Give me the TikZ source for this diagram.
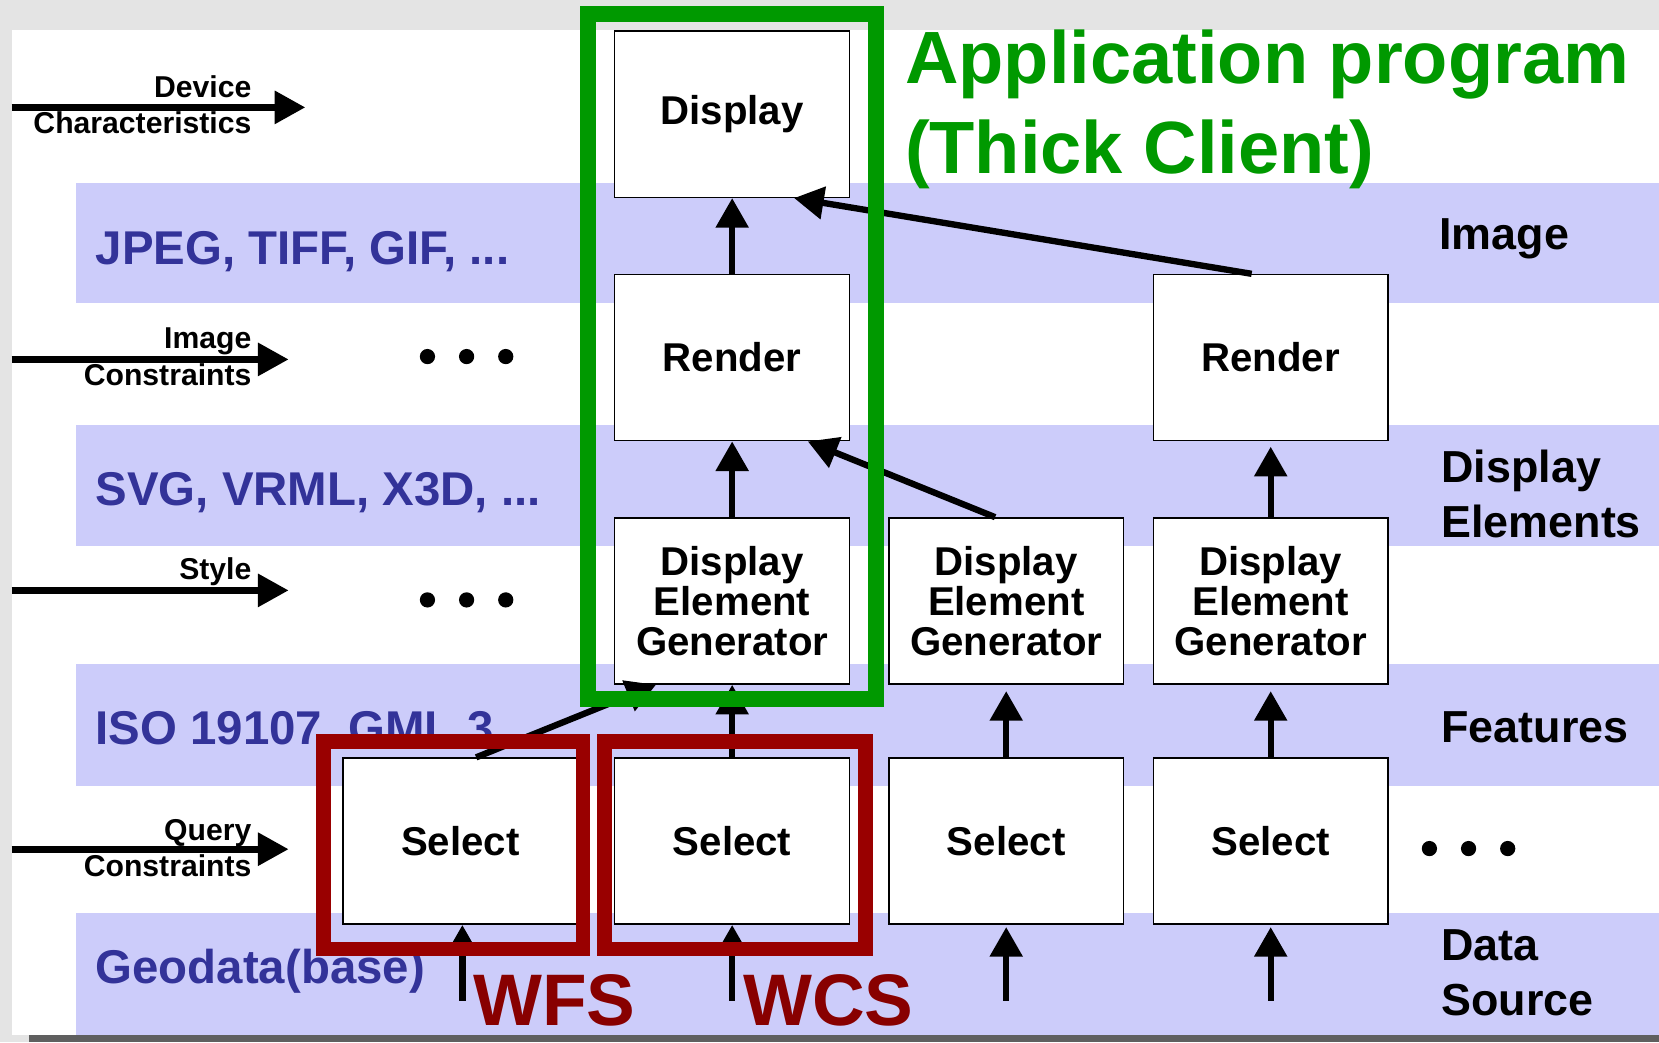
\documentclass[tikz,border=0pt]{standalone}
\usepackage{fontspec}
\setmainfont{Liberation Sans}
\usetikzlibrary{arrows.meta,calc}
\definecolor{bggray}{HTML}{E4E4E4}
\definecolor{bandc}{HTML}{CCCCFA}
\definecolor{bandtext}{HTML}{333399}
\definecolor{appgreen}{HTML}{009900}
\definecolor{frred}{HTML}{990000}
\definecolor{txred}{HTML}{880000}
\definecolor{barg}{HTML}{5F5F5F}
\tikzset{
  box/.style={draw=black, line width=0.7pt, fill=white, minimum width=111pt,
    minimum height=78.5pt, inner sep=0pt, align=center,
    font=\bfseries\fontsize{19pt}{18.75pt}\selectfont},
  conn/.style={line width=3pt, -{Triangle[length=14pt,width=15pt]}},
  inarr/.style={line width=3.2pt, -{Triangle[length=14.5pt,width=15pt]}},
  smalllbl/.style={inner sep=0pt, anchor=base east, font=\bfseries\fontsize{14.25pt}{17pt}\selectfont},
  bandlbl/.style={inner sep=0pt, anchor=base west, text=bandtext, font=\bfseries\fontsize{22.4pt}{26pt}\selectfont},
  sidelbl/.style={inner sep=0pt, anchor=base west, font=\bfseries\fontsize{21.2pt}{26pt}\selectfont},
  titlelbl/.style={inner sep=0pt, anchor=base west, text=appgreen, font=\bfseries\fontsize{35pt}{42pt}\selectfont},
  svclbl/.style={inner sep=0pt, anchor=base west, text=txred, font=\bfseries\fontsize{34.5pt}{40pt}\selectfont},
  greenframe/.style={draw=appgreen, line width=7.5pt},
  redframe/.style={draw=frred, line width=7pt},
  dot/.style={fill=black}
}
\begin{document}
\begin{tikzpicture}[x=0.5pt,y=-0.5pt]
\useasboundingbox (0,0) rectangle (1568,985);
% background
\fill[bggray] (0,0) rectangle (1568,985);
\fill[white] (11,28) rectangle (1568,978);
\fill[barg] (27,978) rectangle (1568,985);
% bands
\fill[bandc] (72,173) rectangle (1568,286);
\fill[bandc] (72,402) rectangle (1568,516);
\fill[bandc] (72,628) rectangle (1568,743);
\fill[bandc] (72,863) rectangle (1568,978);
% band labels
\node[bandlbl] (jpeg) at (90,250) {JPEG, TIFF, GIF, ...};
\node[bandlbl] (svg) at (90,478) {SVG, VRML, X3D, ...};
\node[bandlbl] (iso) at (90,704) {ISO 19107, GML 3};
\node[bandlbl] (geo) at (90,930) {Geodata(base)};
% side labels
\node[sidelbl] (simage) at (1360,236) {Image};
\node[sidelbl] (sdisp) at (1362,456) {Display};
\node[sidelbl] (selem) at (1362,508) {Elements};
\node[sidelbl] (sfeat) at (1362,702) {Features};
\node[sidelbl] (sdata) at (1362,908) {Data};
\node[sidelbl] (ssrc) at (1362,960) {Source};
% input labels
\node[smalllbl] (ldev) at (238,92) {Device};
\node[smalllbl] (lchar) at (238,126) {Characteristics};
\node[smalllbl] (limg) at (238,329) {Image};
\node[smalllbl] (lcon1) at (238,364) {Constraints};
\node[smalllbl] (lsty) at (238,548) {Style};
\node[smalllbl] (lqry) at (238,794) {Query};
\node[smalllbl] (lcon2) at (238,828.5) {Constraints};
% input arrows
\coordinate (a1s) at (11,101.5); \coordinate (a1e) at (288.6,101.5);
\coordinate (a2s) at (11,339.7); \coordinate (a2e) at (272.8,339.7);
\coordinate (a3s) at (11,558); \coordinate (a3e) at (272.8,558);
\coordinate (a4s) at (11,802.6); \coordinate (a4e) at (272.8,802.6);
\draw[inarr] (a1s) -- (a1e);
\draw[inarr] (a2s) -- (a2e);
\draw[inarr] (a3s) -- (a3e);
\draw[inarr] (a4s) -- (a4e);
% dots
\foreach \x in {404,441,478} {\fill[dot] (\x,337) circle[radius=3.6pt];}
\foreach \x in {404,441,478} {\fill[dot] (\x,567) circle[radius=3.6pt];}
\foreach \x in {1351,1388,1425} {\fill[dot] (\x,802) circle[radius=3.6pt];}
% boxes
\node[box] (disp) at (692,108) {Display};
\node[box] (rend2) at (692,338) {Render};
\node[box] (deg2) at (692,568) {Display\\Element\\Generator};
\node[box] (sel2) at (692,795) {Select};
\node[box] (sel1) at (435,795) {Select};
\node[box] (deg3) at (951,568) {Display\\Element\\Generator};
\node[box] (sel3) at (951,795) {Select};
\node[box] (rend4) at (1201,338) {Render};
\node[box] (deg4) at (1201,568) {Display\\Element\\Generator};
\node[box] (sel4) at (1201,795) {Select};
% connectors
\draw[conn] (rend2.north) -- (disp.south);
\draw[conn] (deg2.north) -- (rend2.south);
\draw[conn] (sel2.north) -- (deg2.south);
\draw[conn] ([xshift=-5.25pt]deg3.north) -- ([xshift=35.75pt]rend2.south);
\draw[conn] ([xshift=-9pt]rend4.north) -- ([xshift=29.25pt]disp.south);
\draw[conn] ([xshift=7.5pt]sel1.north) -- ([xshift=-36pt]deg2.south);
\draw[conn, shorten >=3pt] (sel3.north) -- (deg3.south);
\draw[conn, shorten >=3pt] (sel4.north) -- (deg4.south);
\draw[conn, shorten >=2.5pt] (deg4.north) -- (rend4.south);
\coordinate (src1) at (437,946);
\coordinate (src2) at (692,946);
\coordinate (src3) at (951,946);
\coordinate (src4) at (1201,946);
\draw[conn] (src1) -- (sel1.south -| src1);
\draw[conn] (src2) -- (sel2.south);
\draw[conn, shorten >=1pt] (src3) -- (sel3.south);
\draw[conn, shorten >=1pt] (src4) -- (sel4.south);
% frames
\draw[greenframe] (555.5,13) rectangle (827.8,660.5);
\draw[redframe] (306,701) rectangle (551,897);
\draw[redframe] (571,701) rectangle (818,897);
% titles
\node[titlelbl] (t1) at (855,79) {Application program};
\node[titlelbl] (t2) at (855,164) {(Thick Client)};
\node[svclbl] (wfs) at (447,969) {WFS};
\node[svclbl] (wcs) at (702,969) {WCS};
\end{tikzpicture}
\end{document}
